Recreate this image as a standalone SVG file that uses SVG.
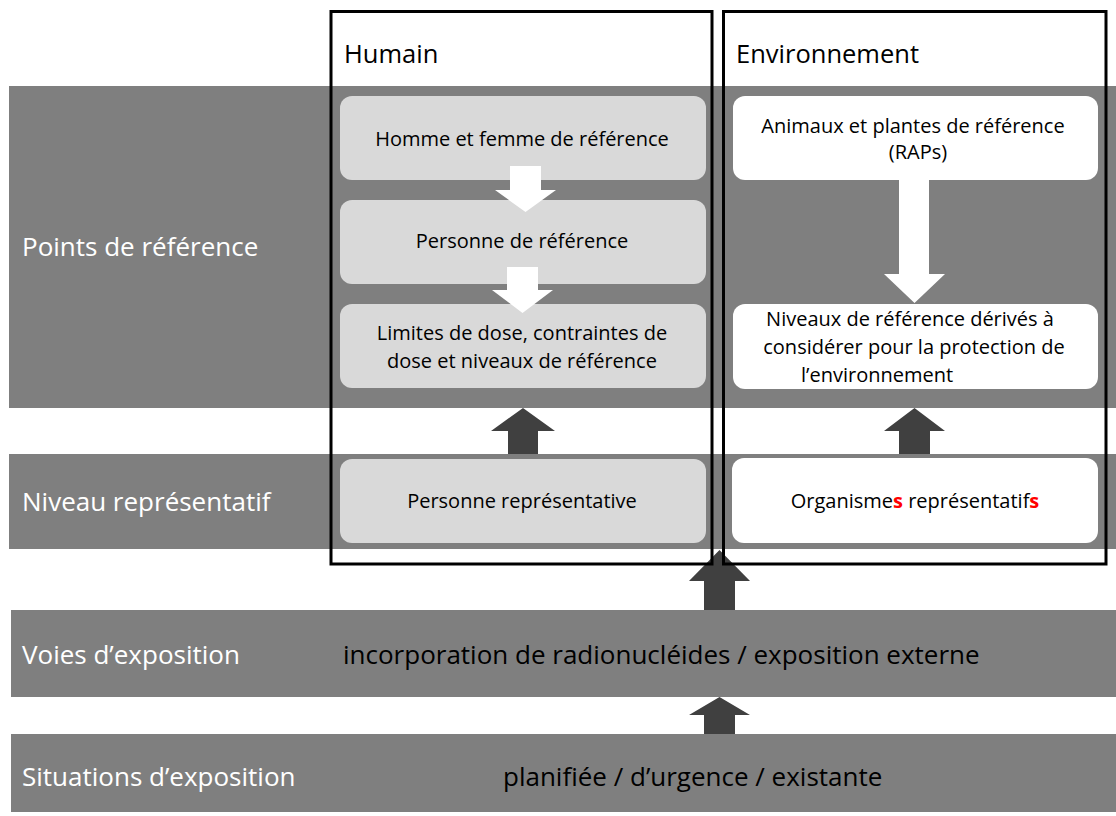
<svg xmlns="http://www.w3.org/2000/svg" width="1116" height="816" viewBox="0 0 1116 816">
  <style>
    .band { fill: #7f7f7f; }
    .lbl { font-family: "Open Sans", "Noto Sans", sans-serif; font-size: 26px; fill: #ffffff; }
    .big { font-family: "Open Sans", "Noto Sans", sans-serif; font-size: 26px; fill: #000000; }
    .head { font-family: "Open Sans", "Noto Sans", sans-serif; font-size: 25.5px; fill: #000000; }
    .node-h { fill: #d9d9d9; }
    .node-e { fill: #ffffff; }
    .txt { font-family: "Open Sans", "Noto Sans", sans-serif; font-size: 20px; fill: #000000; text-anchor: middle; }
    .txt.left { text-anchor: start; }
    .red { fill: #ff0000; font-weight: bold; }
    .arrow-w { fill: #ffffff; }
    .arrow-d { fill: #404040; }
    .frame { fill: none; stroke: #000000; stroke-width: 3; }
  </style>

  <rect width="1116" height="816" fill="#ffffff"/>

  <!-- horizontal level bands -->
  <g id="bands">
    <g id="band-points">
      <rect class="band" x="9" y="86" width="1107" height="322"/>
      <text class="lbl" x="22" y="256">Points de référence</text>
    </g>
    <g id="band-niveau">
      <rect class="band" x="9" y="454" width="1107" height="95"/>
      <text class="lbl" x="22" y="511">Niveau représentatif</text>
    </g>
    <g id="band-voies">
      <rect class="band" x="11" y="610" width="1105" height="87"/>
      <text class="lbl" x="22" y="664">Voies d’exposition</text>
      <text class="big" x="343" y="664">incorporation de radionucléides / exposition externe</text>
    </g>
    <g id="band-situations">
      <rect class="band" x="11" y="734" width="1105" height="78"/>
      <text class="lbl" x="22" y="786">Situations d’exposition</text>
      <text class="big" x="503" y="786">planifiée / d’urgence / existante</text>
    </g>
  </g>

  <!-- human column nodes -->
  <g id="node-homme-femme">
    <rect class="node-h" x="340" y="96" width="366" height="84" rx="12"/>
    <text class="txt" x="522" y="146">Homme et femme de référence</text>
  </g>
  <g id="node-personne-ref">
    <rect class="node-h" x="340" y="200" width="366" height="84" rx="12"/>
    <text class="txt" x="522" y="248">Personne de référence</text>
  </g>
  <g id="node-limites">
    <rect class="node-h" x="340" y="304" width="366" height="84" rx="12"/>
    <text class="txt" x="522" y="340">Limites de dose, contraintes de</text>
    <text class="txt" x="522" y="368">dose et niveaux de référence</text>
  </g>
  <g id="node-personne-rep">
    <rect class="node-h" x="340" y="459" width="366" height="84" rx="12"/>
    <text class="txt" x="522" y="508">Personne représentative</text>
  </g>

  <!-- environment column nodes -->
  <g id="node-raps">
    <rect class="node-e" x="733" y="96" width="365" height="84" rx="12"/>
    <text class="txt" x="913" y="133">Animaux et plantes de référence</text>
    <text class="txt" x="918" y="159">(RAPs)</text>
  </g>
  <g id="node-niveaux-derives">
    <rect class="node-e" x="733" y="304" width="365" height="85" rx="12"/>
    <text class="txt" x="910" y="326">Niveaux de référence dérivés à</text>
    <text class="txt" x="914" y="354">considérer pour la protection de</text>
    <text class="txt left" x="801" y="382">l’environnement</text>
  </g>
  <g id="node-organismes">
    <rect class="node-e" x="732" y="458" width="366" height="85" rx="12"/>
    <text class="txt" x="915" y="508">Organisme<tspan class="red">s</tspan> représentatif<tspan class="red">s</tspan></text>
  </g>

  <!-- block arrows between nodes and levels -->
  <g id="connectors">
    <polygon class="arrow-w" points="510,166 541,166 541,190 556,190 525.5,212 495,190 510,190"/>
    <polygon class="arrow-w" points="507,267 538,267 538,290 553,290 522.5,313 492,290 507,290"/>
    <polygon class="arrow-w" points="899,180 929,180 929,274 945,274 914.5,303 884,274 899,274"/>
    <polygon class="arrow-d" points="508,454 538,454 538,431 555,431 523,408 491,431 508,431"/>
    <polygon class="arrow-d" points="899,454 930,454 930,431 945,431 914.5,408 884,431 899,431"/>
    <polygon class="arrow-d" points="704,610 735,610 735,581 750,581 719.5,550 689,581 704,581"/>
    <polygon class="arrow-d" points="704,734 735,734 735,715 750,715 719.5,697 689,715 704,715"/>
  </g>

  <!-- column frames -->
  <g id="column-humain">
    <rect class="frame" x="331" y="11.5" width="381" height="552.5"/>
    <text class="head" x="344" y="63">Humain</text>
  </g>
  <g id="column-environnement">
    <rect class="frame" x="723.5" y="11.5" width="382.5" height="552.5"/>
    <text class="head" x="736" y="63">Environnement</text>
  </g>
</svg>
